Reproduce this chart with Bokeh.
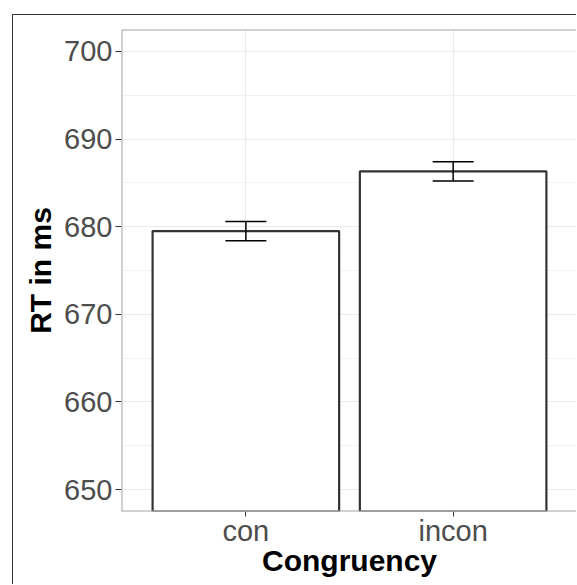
from bokeh.plotting import figure
from bokeh.models import (ColumnDataSource, Range1d, FixedTicker, Whisker, TeeHead, Span)
from bokeh.embed import file_html
from bokeh.resources import INLINE

# ---- data ----
categories = ["con", "incon"]
rt_means = [679.5, 686.3]
rt_err = [1.1, 1.1]
y_ticks = [650, 660, 670, 680, 690, 700]
y_minor = [645, 655, 665, 675, 685, 695, 705]

xs = list(range(1, len(categories) + 1))
src = ColumnDataSource(dict(
    x=xs,
    top=rt_means,
    lower=[m - e for m, e in zip(rt_means, rt_err)],
    upper=[m + e for m, e in zip(rt_means, rt_err)],
))

xr = Range1d(0.4, 2.6)
yr = Range1d(647.5, 702.5)
p = figure(width=564, height=570, output_backend="svg", toolbar_location=None,
           x_range=xr, y_range=yr,
           min_border_left=108, min_border_right=0, min_border_top=14,
           min_border_bottom=74)
p.styles = {"border-top": "1px solid #333333", "border-left": "1px solid #333333",
            "margin-left": "12px", "margin-top": "14px"}

p.background_fill_color = "white"
p.border_fill_color = "white"
p.outline_line_color = None

p.vbar(x="x", top="top", bottom=0, width=0.9, source=src,
       fill_color="white", line_color="#333333", line_width=2.2)

wh = Whisker(base="x", upper="upper", lower="lower", source=src,
             line_color="black", line_width=1.5, level="overlay",
             upper_head=TeeHead(size=41, line_color="black", line_width=1.5),
             lower_head=TeeHead(size=41, line_color="black", line_width=1.5))
p.add_layout(wh)

# panel border (left, top, bottom; right edge runs off the page)
for loc, dim in ((xr.start, "height"), (yr.end, "width"), (yr.start, "width")):
    p.add_layout(Span(location=loc, dimension=dim, line_color="#A6A6A6",
                      line_width=2, level="overlay"))

# axes
p.xaxis.ticker = FixedTicker(ticks=xs)
p.xaxis.major_label_overrides = {x: c for x, c in zip(xs, categories)}
p.yaxis.ticker = FixedTicker(ticks=y_ticks, minor_ticks=y_minor)

for ax in (p.xaxis, p.yaxis):
    ax.axis_line_color = None
    ax.major_tick_line_color = "#333333"
    ax.major_tick_line_width = 1
    ax.minor_tick_line_color = None
    ax.major_label_text_font = "Liberation Sans"
    ax.major_label_text_font_size = "29px"
    ax.major_label_text_color = "#4D4D4D"
    ax.axis_label_text_font = "Liberation Sans"
    ax.axis_label_text_font_style = "bold"
    ax.axis_label_text_font_size = "30px"
    ax.axis_label_text_color = "black"

p.xaxis.major_tick_out = 5
p.xaxis.major_tick_in = 0
p.xaxis.major_label_standoff = -2
p.xaxis.axis_label = "Congruency"
p.xaxis.axis_label_standoff = -6

p.yaxis.major_tick_out = 6
p.yaxis.major_tick_in = 0
p.yaxis.major_label_standoff = 3
p.yaxis.axis_label = "RT in ms"
p.yaxis.axis_label_standoff = 4

# grid
p.xgrid.grid_line_color = "#EBEBEB"
p.xgrid.grid_line_width = 1.2
p.ygrid.grid_line_color = "#EBEBEB"
p.ygrid.grid_line_width = 1.2
p.ygrid.minor_grid_line_color = "#EFEFEF"
p.ygrid.minor_grid_line_width = 0.8

open("out.html", "w").write(file_html(p, INLINE))
